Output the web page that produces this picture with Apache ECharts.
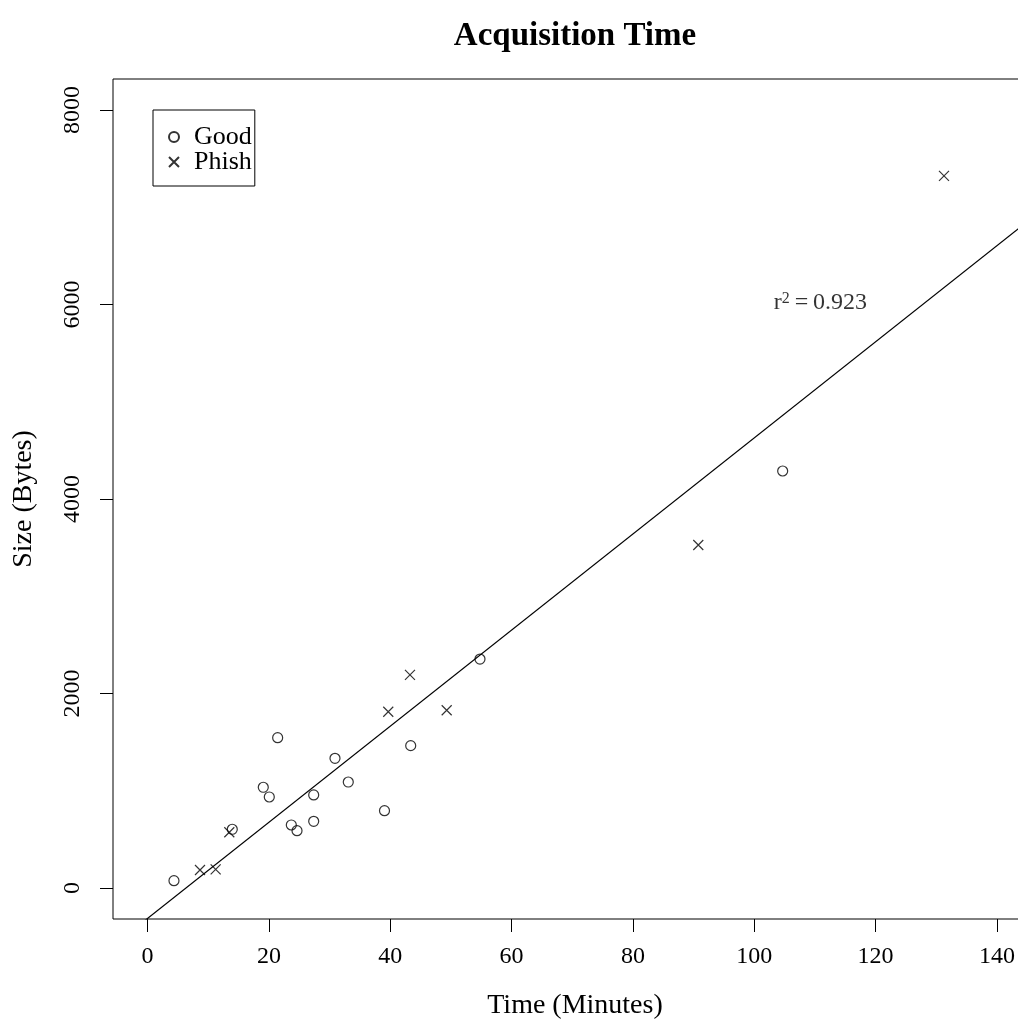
<!DOCTYPE html>
<html>
<head>
<meta charset="utf-8">
<script src="https://cdn.jsdelivr.net/npm/echarts@6/dist/echarts.min.js"></script>
<style>
html,body{margin:0;padding:0;background:#fff;}
#chart{width:1018px;height:1021px;}
</style>
</head>
<body>
<div id="chart"></div>
<script>
// ---- data ----
const goodX = [4.35, 13.96, 19.07, 20.06, 21.44, 23.69, 24.63, 27.38, 27.38, 30.89, 33.08, 39.05, 43.37, 54.79, 104.68];
const goodY = [74, 603, 1035, 935, 1545, 647, 588, 956, 685, 1333, 1089, 794, 1463, 2354, 4288];
const phishX = [8.64, 11.22, 13.47, 39.67, 43.25, 49.30, 90.77, 131.27];
const phishY = [184, 191, 572, 1812, 2191, 1827, 3527, 7323];
const fitIntercept = -313.8;
const fitSlope = 49.43;
const r2Text = '0.923';
const r2Pos = [110.9, 6015];
const xTicks = [0, 20, 40, 60, 80, 100, 120, 140];
const yTicks = [0, 2000, 4000, 6000, 8000];
const xMin = -5.7, xMax = 146.6;
const yMin = -320, yMax = 8320;

const FONT = '"Liberation Serif", "Times New Roman", serif';
const pair = (xs, ys) => xs.map((x, i) => [x, ys[i]]);
const fitLine = [[xMin, fitIntercept + fitSlope * xMin], [xMax, fitIntercept + fitSlope * xMax]];
const CROSS = 'path://M0,0L10,10M0,10L10,0';

const chart = echarts.init(document.getElementById('chart'), null, {renderer: 'canvas'});
chart.setOption({
  animation: false,
  backgroundColor: '#fff',
  title: {
    text: 'Acquisition Time',
    left: 575, top: 20, padding: 0,
    textAlign: 'center',
    textStyle: {fontFamily: FONT, fontWeight: 'bold', fontSize: 33, color: '#000'}
  },
  legend: {
    orient: 'vertical',
    left: 153, top: 110,
    padding: [14, 3, 11, 15],
    borderColor: '#000', borderWidth: 1, borderRadius: 0,
    itemWidth: 10, itemHeight: 10, itemGap: -1,
    data: [{name: 'Good', icon: 'circle'}, {name: 'Phish', icon: CROSS}],
    textStyle: {fontFamily: FONT, fontSize: 26, color: '#000', padding: [0, 0, 0, 10]}
  },
  grid: {
    left: 113, top: 79, right: -19, bottom: 102,
    show: true, borderColor: '#000', borderWidth: 1,
    outerBoundsMode: 'none', containLabel: false
  },
  xAxis: {
    type: 'value', min: xMin, max: xMax,
    axisLine: {show: false, onZero: false},
    splitLine: {show: false},
    axisTick: {show: true, inside: false, length: 13, lineStyle: {color: '#000', width: 1}, customValues: xTicks},
    axisLabel: {customValues: xTicks, margin: 26, fontFamily: FONT, fontSize: 24, color: '#000', formatter: v => String(v)},
    name: 'Time (Minutes)', nameLocation: 'middle', nameGap: 73,
    nameTextStyle: {fontFamily: FONT, fontSize: 28, color: '#000'}
  },
  yAxis: {
    type: 'value', min: yMin, max: yMax,
    axisLine: {show: false, onZero: false},
    splitLine: {show: false},
    axisTick: {show: true, inside: false, length: 13, lineStyle: {color: '#000', width: 1}, customValues: yTicks},
    axisLabel: {customValues: yTicks, rotate: 90, margin: 28, fontFamily: FONT, fontSize: 24, color: '#000', formatter: v => String(v)},
    name: 'Size (Bytes)', nameLocation: 'middle', nameGap: 75,
    nameTextStyle: {fontFamily: FONT, fontSize: 28, color: '#000'}
  },
  series: [
    {
      name: 'fit', type: 'line', data: fitLine, clip: true,
      showSymbol: false, symbol: 'none', silent: true,
      lineStyle: {color: '#000', width: 1.2}, z: 1
    },
    {
      name: 'Good', type: 'scatter', data: pair(goodX, goodY),
      symbol: 'circle', symbolSize: 10,
      itemStyle: {color: 'rgba(0,0,0,0)', borderColor: '#000', borderWidth: 1.2}, z: 3
    },
    {
      name: 'Phish', type: 'scatter', data: pair(phishX, phishY),
      symbol: CROSS, symbolSize: 10, symbolKeepAspect: true,
      itemStyle: {color: 'rgba(0,0,0,0)', borderColor: '#000', borderWidth: 1.2}, z: 3
    },
    {
      name: 'r2', type: 'scatter', data: [r2Pos], symbolSize: 0, silent: true,
      label: {
        show: true, position: 'inside',
        formatter: '{r|r}{s|2}{r|\u2009=\u2009' + r2Text + '}',
        rich: {
          r: {fontFamily: FONT, fontSize: 24, color: '#000', lineHeight: 24},
          s: {fontFamily: FONT, fontSize: 16, color: '#000', verticalAlign: 'top', lineHeight: 24}
        }
      }
    }
  ]
});
</script>
</body>
</html>
